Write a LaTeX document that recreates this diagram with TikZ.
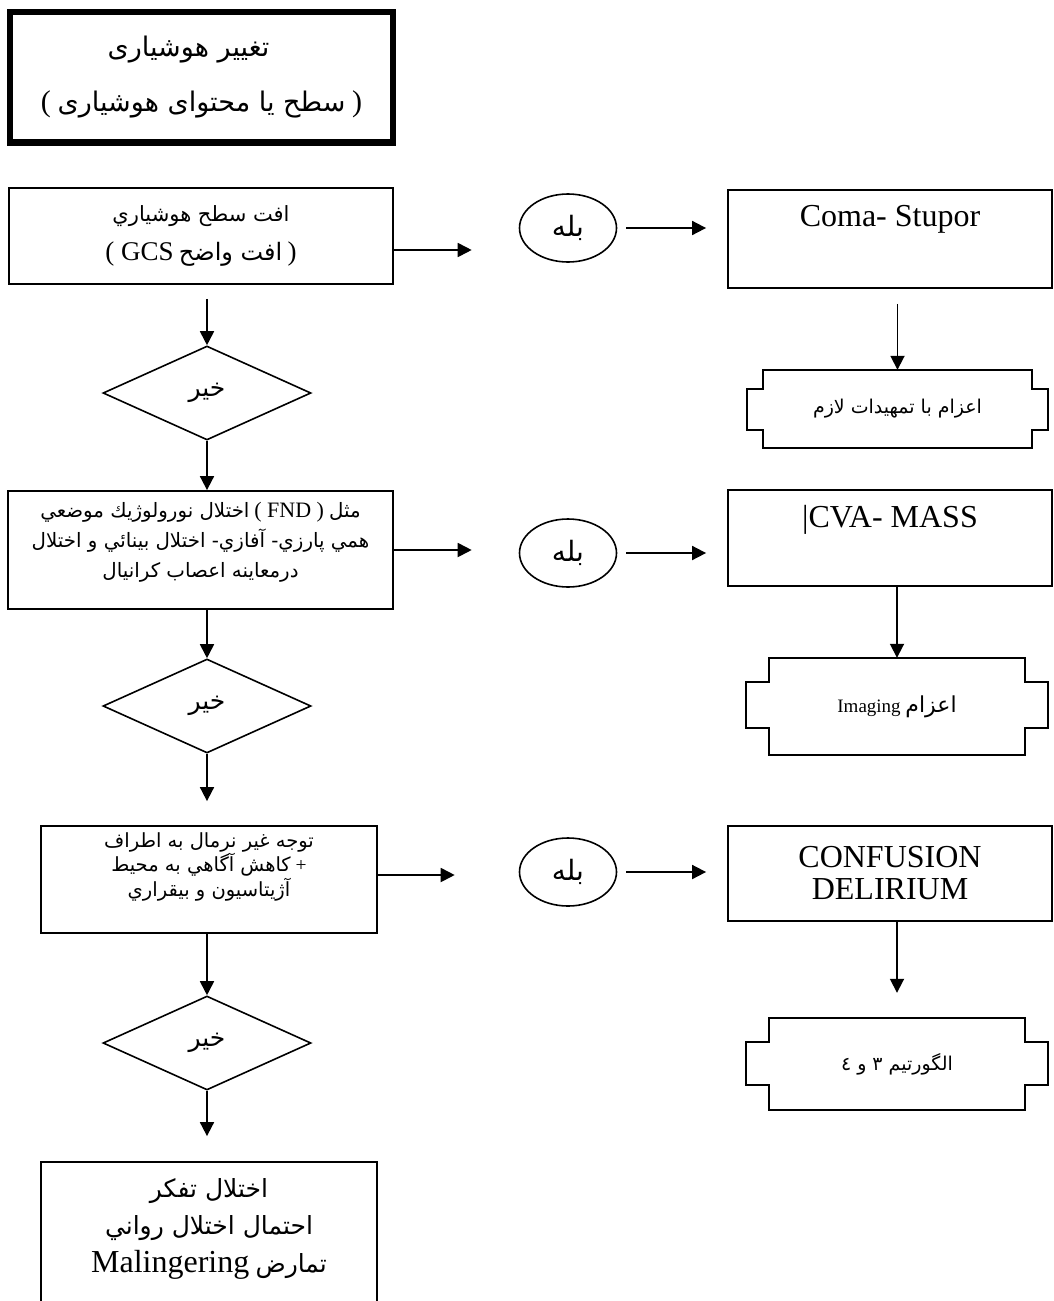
\documentclass[tikz,border=0pt]{standalone}
\usepackage{fontspec}
\setmainfont{Liberation Serif}
\newfontfamily\arfont[Script=Arabic]{DejaVu Sans}
\TeXXeTstate=1
\usetikzlibrary{arrows.meta,shapes.geometric,calc}
\newcommand\fsz[2]{\fontsize{#1pt}{#2pt}\selectfont}
\newcommand\notchbox[4]{%
  \draw[ln] (#1.north west) -- (#1.north east) -- ++(0,#3) -- ++(#2,0)
    -- ($(#1.south east)+(#2,-#4)$) -- ++(-#2,0) -- (#1.south east)
    -- (#1.south west) -- ++(0,-#4) -- ++(-#2,0)
    -- ($(#1.north west)+(-#2,#3)$) -- ++(#2,0) -- cycle;}
\begin{document}
\begin{tikzpicture}[x=1pt,y=-1pt,
  ln/.style={line width=1.8pt},
  box/.style={draw, rectangle, line width=1.8pt, inner sep=0pt},
  arr/.style={line width=1.8pt, -{Triangle[length=14pt,width=14pt]}},
  dia/.style={draw, diamond, line width=1.6pt, minimum width=208pt, minimum height=94pt, inner sep=0pt, font={\fsz{25}{28}}},
  ell/.style={draw, ellipse, line width=1.6pt, minimum width=97pt, minimum height=68pt, inner sep=0pt, font={\fsz{28}{30}}},
  notch/.style={rectangle, inner sep=0pt, font={\fsz{19}{22}}}]
\useasboundingbox (0,0) rectangle (1054,1301);
\clip (0,0) rectangle (1054,1301);

% top box
\node[box, line width=6.5pt, minimum width=383pt, minimum height=130.5pt, align=center, font={\fsz{27}{55}}] (top) at (201.5,77.25)
  {{\arfont\beginR تغییر هوشیاری\endR}\hspace*{26pt}\\{\fsz{30}{55}(} {\arfont\beginR سطح یا محتوای هوشیاری\endR} {\fsz{30}{55})}};

% row 1
\node[box, minimum width=384pt, minimum height=96pt, align=center, font={\fsz{21}{39}}] (A) at (201,236)
  {{\arfont\beginR افت سطح هوشياري\endR}\\{\fsz{27}{39}( GCS} {\fsz{24}{39}\arfont\beginR افت واضح\endR} {\fsz{27}{39})}};
\node[ell] (e1) at (568,228) {{\arfont\beginR بله\endR}};
\node[box, minimum width=324pt, minimum height=98pt,
  label={[anchor=center, yshift=-30pt, font={\fsz{32}{36}}]north:Coma- Stupor}] (coma) at (890,239) {};
\node[notch, minimum width=269pt, minimum height=78pt] (m1) at (897.5,409) {{\arfont\beginR اعزام با تمهیدات لازم\endR}};
\notchbox{m1}{16}{19}{18}
\node[dia] (d1) at (207,393) {{\arfont\beginR خیر\endR}};

% row 2
\node[box, minimum width=385pt, minimum height=118pt,
  label={[anchor=center, yshift=8pt, align=center, font={\fsz{19.8}{30}}]center:{{\arfont\beginR اختلال نورولوژيك موضعي\endR} {\fsz{22}{30}( FND )} {\arfont\beginR مثل\endR}\\{\arfont\beginR همي پارزي- آفازي- اختلال بينائي و اختلال\endR}\\{\arfont\beginR درمعاينه اعصاب كرانيال\endR}}}] (B) at (200.5,550) {};
\node[ell] (e2) at (568,553) {{\arfont\beginR بله\endR}};
\node[box, minimum width=324pt, minimum height=96pt,
  label={[anchor=center, yshift=-31pt, font={\fsz{32}{36}}]north:|CVA- MASS}] (cva) at (890,538) {};
\node[notch, minimum width=256pt, minimum height=97pt] (m2) at (897,706.5) {{\fsz{19}{22}Imaging} {\fsz{22}{24}\arfont\beginR اعزام\endR}};
\notchbox{m2}{23}{24}{27}
\node[dia] (d2) at (207,706) {{\arfont\beginR خیر\endR}};

% row 3
\node[box, minimum width=336pt, minimum height=107pt,
  label={[anchor=center, yshift=13pt, align=center, font={\fsz{19.5}{24.5}}]center:{{\arfont\beginR توجه غير نرمال به اطراف\endR}\\{\arfont\beginR كاهش آگاهي به محيط\endR} +\\{\arfont\beginR آژيتاسيون و بيقراري\endR}}}] (C) at (209,879.5) {};
\node[ell] (e3) at (568,872) {{\arfont\beginR بله\endR}};
\node[box, minimum width=324pt, minimum height=95pt, align=center, font={\fsz{32}{32}}] (conf) at (890,873.5) {CONFUSION\\DELIRIUM};
\node[notch, minimum width=256pt, minimum height=92pt] (m3) at (897,1064) {{\arfont\beginR الگورتیم ۳ و ٤\endR}};
\notchbox{m3}{23}{24}{25}
\node[dia] (d3) at (207,1043) {{\arfont\beginR خیر\endR}};

% bottom box
\node[box, minimum width=336pt, minimum height=160pt,
  label={[anchor=center, yshift=-67.5pt, align=center, font={\fsz{25}{37.5}}]north:{{\arfont\beginR اختلال تفكر\endR}\\{\arfont\beginR احتمال اختلال رواني\endR}\\{\fsz{32}{37.5}Malingering} {\arfont\beginR تمارض\endR}}}] (D) at (209,1242) {};

% connectors row 1
\draw[arr, shorten >=47pt] ([yshift=-14pt]A.east) -- ([yshift=-14pt]A.east -| e1.west);
\draw[arr, shorten <=9pt, shorten >=21pt] (e1.east) -- (e1.east -| coma.west);
\draw[arr, shorten <=15pt] (coma.south -| m1.north) -- (m1.north);
\draw[arr, shorten <=14pt] (A.south -| d1.north) -- (d1.north);
\draw[arr] (d1.south) -- (d1.south |- B.north);
% row 2
\draw[arr, shorten >=47pt] (B.east) -- (B.east -| e2.west);
\draw[arr, shorten <=9pt, shorten >=21pt] (e2.east) -- (e2.east -| cva.west);
\draw[arr] (cva.south -| m2.north) -- (m2.north);
\draw[arr] (B.south -| d2.north) -- (d2.north);
\draw[arr, shorten >=24pt] (d2.south) -- (d2.south |- C.north);
% row 3
\draw[arr, shorten >=64pt] ([yshift=4.5pt]C.east) -- ([yshift=4.5pt]C.east -| e3.west);
\draw[arr, shorten <=9pt, shorten >=21pt] (e3.east) -- (e3.east -| conf.west);
\draw[arr, shorten >=25pt] (conf.south -| m3.north) -- (m3.north);
\draw[arr] (C.south -| d3.north) -- (d3.north);
\draw[arr, shorten >=25pt] (d3.south) -- (d3.south |- D.north);
\end{tikzpicture}
\end{document}
